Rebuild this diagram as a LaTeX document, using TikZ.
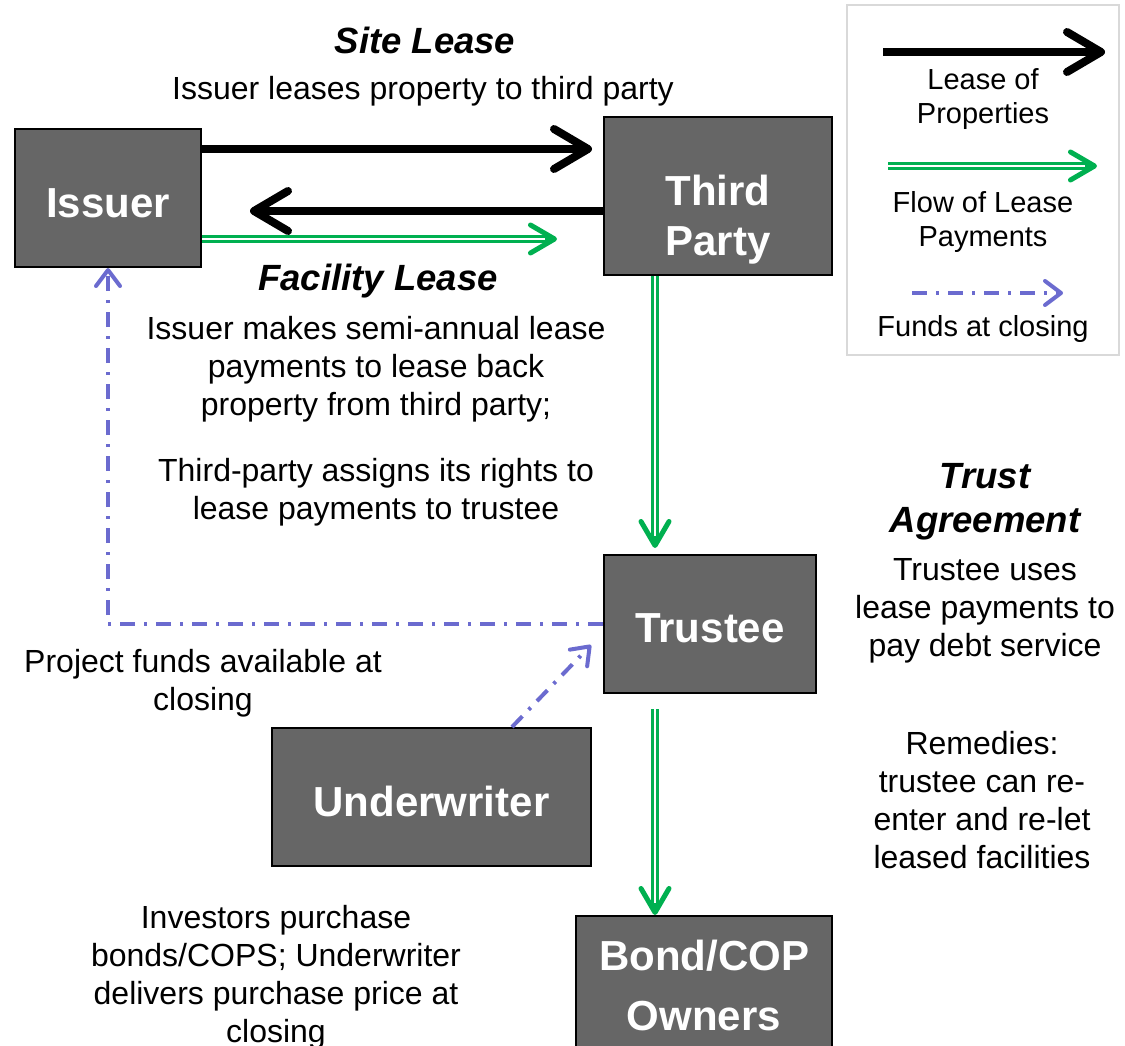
\documentclass[tikz,border=0pt]{standalone}
\usepackage{fontspec}
\setmainfont{Liberation Sans}
\usetikzlibrary{arrows.meta}
\definecolor{boxgray}{HTML}{666666}
\definecolor{paygreen}{HTML}{00B050}
\definecolor{fundblue}{HTML}{6B6BCF}
\definecolor{legendgray}{HTML}{D9D9D9}
\tikzset{
 entity/.style={draw=black, line width=2pt, fill=boxgray, inner sep=0pt},
 entitytext/.style={text=white, font=\fontsize{42}{50}\selectfont\bfseries, align=center, inner sep=0pt},
 heading/.style={font=\fontsize{36.5}{44}\selectfont\bfseries\itshape, align=center, inner sep=0pt},
 body/.style={font=\fontsize{32}{38}\selectfont, align=center, inner sep=0pt},
 legtext/.style={font=\fontsize{29}{34}\selectfont, align=center, inner sep=0pt},
 lease/.style={draw=black, line width=8pt, -{Straight Barb[length=34pt,width=40pt,line cap=round,line join=round]}},
 payment/.style={draw=paygreen, line width=8pt, -{Straight Barb[length=24pt,width=28pt,line width=5pt,line cap=round,line join=round]}, postaction={draw=white, line width=2pt, -, shorten >=12pt}},
 funds/.style={draw=fundblue, line width=4pt, dash pattern=on 15pt off 9pt on 3pt off 9pt, -{Straight Barb[length=16pt,width=24pt,line cap=round,line join=round]}},
}
\begin{document}
\begin{tikzpicture}[x=1pt,y=-1pt]
\useasboundingbox (0,0) rectangle (1125,1046);
% entities
\node[entity, minimum width=186pt, minimum height=138pt] (issuer) at (108,198) {};
\node[entitytext] (issuertxt) at (108,203) {Issuer};
\node[entity, minimum width=228pt, minimum height=158pt] (third) at (718,196) {};
\node[entitytext] (thirdtxt) at (718,220) {Third\\Party};
\node[entity, minimum width=212pt, minimum height=138pt] (trustee) at (710,624) {};
\node[entitytext] (trusteetxt) at (710,628) {Trustee};
\node[entity, minimum width=319pt, minimum height=138pt] (underwriter) at (431.5,797) {};
\node[entitytext] (underwritertxt) at (431.5,801) {Underwriter};
\node[entity, minimum width=256pt, minimum height=138pt] (bond) at (704,985) {};
\node[entitytext] (bondtxt) at (704,985) {Bond/COP\\[10pt]Owners};
% legend
\node[draw=legendgray, line width=2pt, minimum width=272pt, minimum height=350pt, inner sep=0pt] (legend) at (983,180) {};
\coordinate (l1s) at (883,52); \coordinate (l1e) at (1105,52);
\coordinate (l2s) at (888,166); \coordinate (l2e) at (1097,166);
\coordinate (l3s) at (912,293); \coordinate (l3e) at (1063,293);
\draw[lease] (l1s) -- (l1e);
\draw[payment] (l2s) -- (l2e);
\draw[funds] (l3s) -- (l3e);
\node[legtext] (leg1) at (983,99) {Lease of\\Properties};
\node[legtext] (leg2) at (983,222) {Flow of Lease\\Payments};
\node[legtext] (leg3) at (983,329) {Funds at closing};
% connectors
\coordinate (t1) at (592,149);
\draw[lease] (issuer.east |- t1) -- (t1);
\coordinate (t2) at (250,211);
\draw[lease] (third.west |- t2) -- (t2);
\coordinate (t3) at (557,239);
\draw[payment] (issuer.east |- t3) -- (t3);
\coordinate (t4) at (655,548);
\draw[payment] (t4 |- third.south) -- (t4);
\coordinate (t5) at (655,915);
\draw[payment, shorten <=15pt] (t5 |- trustee.south) -- (t5);
\draw[funds] (trustee.west) -| (issuer.south);
\coordinate (t6) at (591,645);
\draw[funds] ([xshift=80.5pt]underwriter.north) -- (t6);
% texts
\node[heading] (siteh) at (425,40) {Site Lease};
\node[body] (sitet) at (423,91) {Issuer leases property to third party};
\node[heading] (fach) at (378,281) {Facility Lease};
\node[body] (fact1) at (376,369) {Issuer makes semi-annual lease\\payments to lease back\\property from third party;};
\node[body] (fact2) at (376,492) {Third-party assigns its rights to\\lease payments to trustee};
\node[heading] (trusth) at (985,502) {Trust\\Agreement};
\node[body] (trustt) at (985,611) {Trustee uses\\lease payments to\\pay debt service};
\node[body] (remt) at (982,800) {Remedies:\\trustee can re-\\enter and re-let\\leased facilities};
\node[body] (projt) at (203,683) {Project funds available at\\closing};
\node[body] (invt) at (276,977) {Investors purchase\\bonds/COPS; Underwriter\\delivers purchase price at\\closing};
\end{tikzpicture}
\end{document}
